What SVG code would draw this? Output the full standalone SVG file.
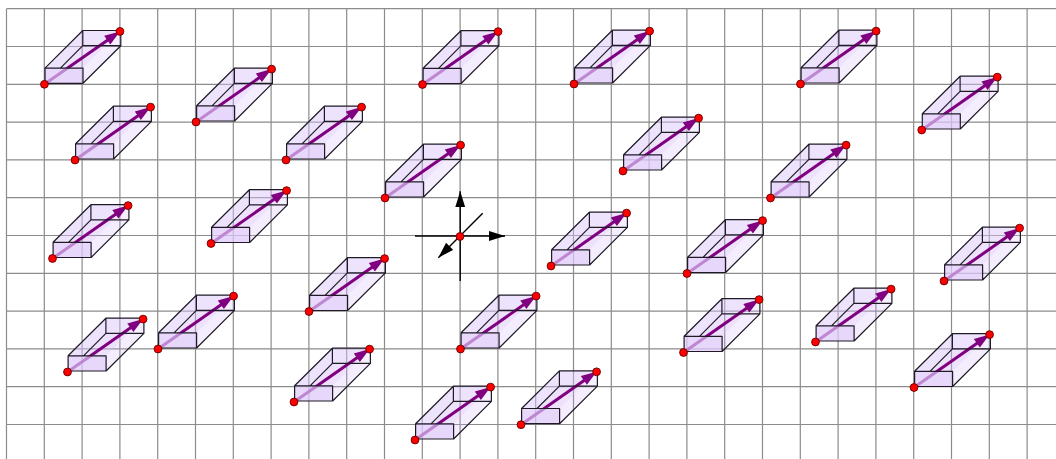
<svg xmlns="http://www.w3.org/2000/svg" width="1056" height="459" viewBox="0 0 1056 459">
<style>
.g{stroke:#8c8c8c;stroke-width:1.2;fill:none}
.e{fill:#c9a6f5;fill-opacity:.2;stroke:none}
.l{fill:#d9c0fa;fill-opacity:.26;stroke:none}
.f{fill:#dfcbfb;fill-opacity:.66;stroke:none}
.s{stroke:#1f1a26;stroke-width:1.2;fill:none;stroke-linejoin:round}
.a{stroke:#800080;stroke-width:3;fill:none}
.h{fill:#800080}
.d{fill:#f00;stroke:#600;stroke-width:.9}
.x{stroke:#000;stroke-width:1.4;fill:none}
</style>
<defs>
<marker id="ah" markerWidth="17" markerHeight="12" refX="16" refY="5" orient="auto" markerUnits="userSpaceOnUse"><path d="M0 0L16 5L0 10Z" fill="#000"/></marker>
<g id="box">
<path class="l" d="M38.4-53.8H76.4V-38.6H38.4Z"/>
<path class="l" d="M.6-16.2L38.4-53.8V-38.6L.6-1Z"/>
<path class="e" d="M.6-1H38.6L76.4-38.6H38.4Z"/>
<path class="l" d="M.6-16.2L38.4-53.8H76.4L38.6-16.2Z"/>
<path class="a" d="M0 0L67-46.9"/>
<path class="h" d="M75.6-52.9L59.8-48.6L65.9-39.9Z"/>
<path class="f" d="M.6-1H38.6V-16.2H.6Z"/>
<path class="s" d="M.6-1H38.6V-16.2H.6ZM.6-16.2L38.4-53.8H76.4V-38.6L38.6-1M38.4-53.8V-38.6H76.4M38.4-38.6L16-16.2"/>
<circle class="d" cx="0" cy="0" r="3.9"/>
<circle class="d" cx="75.6" cy="-52.9" r="3.9"/>
</g>
</defs>
<g id="grid">
<path class="g" d="M6.5 8.7V459M44.3 8.7V459M82.1 8.7V459M119.9 8.7V459M157.7 8.7V459M195.5 8.7V459M233.3 8.7V459M271.1 8.7V459M308.9 8.7V459M346.7 8.7V459M384.5 8.7V459M422.3 8.7V459M460.1 8.7V459M497.9 8.7V459M535.7 8.7V459M573.5 8.7V459M611.3 8.7V459M649.1 8.7V459M686.9 8.7V459M724.7 8.7V459M762.5 8.7V459M800.3 8.7V459M838.1 8.7V459M875.9 8.7V459M913.7 8.7V459M951.5 8.7V459M989.3 8.7V459M1027.1 8.7V459"/>
<path class="g" d="M6.5 8.7H1056M6.5 46.5H1056M6.5 84.3H1056M6.5 122.1H1056M6.5 159.9H1056M6.5 197.7H1056M6.5 235.5H1056M6.5 273.3H1056M6.5 311.1H1056M6.5 348.9H1056M6.5 386.7H1056M6.5 424.5H1056"/>
</g>
<g id="connectors">
<path class="x" d="M415 236H505" marker-end="url(#ah)"/>
<path class="x" d="M460.2 281V191.3" marker-end="url(#ah)"/>
<path class="x" d="M482.7 213.3L438.3 257.7" marker-end="url(#ah)"/>
</g>
<g id="origin"><circle class="d" cx="460" cy="236.5" r="3.9"/></g>
<g id="n1" transform="translate(44.4 84.3)"><use href="#box"/></g>
<g id="n2" transform="translate(75 160)"><use href="#box"/></g>
<g id="n3" transform="translate(196 122)"><use href="#box"/></g>
<g id="n4" transform="translate(286 160)"><use href="#box"/></g>
<g id="n5" transform="translate(422.5 84.5)"><use href="#box"/></g>
<g id="n6" transform="translate(574 84)"><use href="#box"/></g>
<g id="n7" transform="translate(800.5 84)"><use href="#box"/></g>
<g id="n8" transform="translate(921.7 130)"><use href="#box"/></g>
<g id="n9" transform="translate(623 171)"><use href="#box"/></g>
<g id="n10" transform="translate(770.5 198)"><use href="#box"/></g>
<g id="n11" transform="translate(385 198)"><use href="#box"/></g>
<g id="n12" transform="translate(211 243.5)"><use href="#box"/></g>
<g id="n13" transform="translate(52.5 258.5)"><use href="#box"/></g>
<g id="n14" transform="translate(551 266)"><use href="#box"/></g>
<g id="n15" transform="translate(687 273.5)"><use href="#box"/></g>
<g id="n16" transform="translate(944 281)"><use href="#box"/></g>
<g id="n17" transform="translate(309 311.5)"><use href="#box"/></g>
<g id="n18" transform="translate(158 349)"><use href="#box"/></g>
<g id="n19" transform="translate(67.5 372)"><use href="#box"/></g>
<g id="n20" transform="translate(460.5 349)"><use href="#box"/></g>
<g id="n21" transform="translate(683.5 352.5)"><use href="#box"/></g>
<g id="n22" transform="translate(815.5 342)"><use href="#box"/></g>
<g id="n23" transform="translate(914 387.5)"><use href="#box"/></g>
<g id="n24" transform="translate(294 402)"><use href="#box"/></g>
<g id="n25" transform="translate(415 440)"><use href="#box"/></g>
<g id="n26" transform="translate(521 424.7)"><use href="#box"/></g>
</svg>
